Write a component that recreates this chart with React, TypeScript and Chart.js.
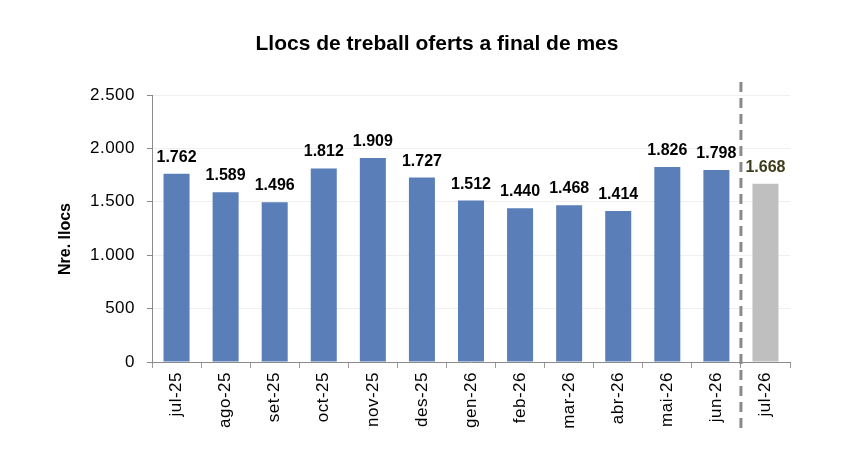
import React, { useEffect, useRef } from "react";
import { Chart, registerables } from "chart.js";

Chart.register(...registerables);

const categories = [
  "jul-25", "ago-25", "set-25", "oct-25", "nov-25", "des-25",
  "gen-26", "feb-26", "mar-26", "abr-26", "mai-26", "jun-26", "jul-26",
];
const values = [1762, 1589, 1496, 1812, 1909, 1727, 1512, 1440, 1468, 1414, 1826, 1798, 1668];
const forecastFrom = 12; // index of first highlighted (grey) bar
const yTicks = [0, 500, 1000, 1500, 2000, 2500];
const chartTitle = "Llocs de treball oferts a final de mes";
const yTitle = "Nre. llocs";

const BLUE = "#5a7eb7";
const GREY = "#bfbfbf";
const FONT = "'Liberation Sans', Arial, sans-serif";

const fmt = (v: number) => String(Math.round(v)).replace(/\B(?=(\d{3})+(?!\d))/g, ".");

const drawPlugin = {
  id: "customDraw",
  beforeDraw(chart: any) {
    (chart.ctx as any).letterSpacing = "0.5px";
  },
  beforeDatasetsDraw(chart: any) {
    (chart.ctx as any).letterSpacing = "0px";
  },
  afterDraw(chart: any) {
    const ctx = chart.ctx as CanvasRenderingContext2D;
    const x = chart.scales.x;
    ctx.save();
    (ctx as any).letterSpacing = "0px";

    // value labels
    const meta = chart.getDatasetMeta(0);
    meta.data.forEach((bar: any, i: number) => {
      ctx.font = `bold 16px ${FONT}`;
      ctx.fillStyle = i >= forecastFrom ? "#3d3d1c" : "#000000";
      ctx.textAlign = "center";
      ctx.textBaseline = "alphabetic";
      ctx.fillText(fmt(values[i]), bar.x, bar.y - 12);
    });

    // dashed separator
    const sx = (x.getPixelForValue(forecastFrom - 1) + x.getPixelForValue(forecastFrom)) / 2;
    ctx.beginPath();
    ctx.setLineDash([10, 6]);
    ctx.lineWidth = 3;
    ctx.strokeStyle = "#8a8a8a";
    ctx.moveTo(sx, 82);
    ctx.lineTo(sx, 430);
    ctx.stroke();
    ctx.setLineDash([]);

    // title
    ctx.font = `bold 21px ${FONT}`;
    ctx.fillStyle = "#000";
    ctx.textAlign = "center";
    ctx.fillText(chartTitle, 437, 50);

    // y title
    ctx.translate(66, 239);
    ctx.rotate(-Math.PI / 2);
    ctx.font = `bold 16px ${FONT}`;
    ctx.textBaseline = "middle";
    ctx.fillText(yTitle, 0, 0);
    ctx.restore();
  },
};

export default function App() {
  const ref = useRef<HTMLCanvasElement | null>(null);
  useEffect(() => {
    if (!ref.current) return;
    const chart = new Chart(ref.current, {
      type: "bar",
      data: {
        labels: categories,
        datasets: [
          {
            data: values,
            backgroundColor: values.map((_, i) => (i >= forecastFrom ? GREY : BLUE)),
            barPercentage: 0.53,
            categoryPercentage: 1,
          },
        ],
      },
      options: {
        animation: false,
        responsive: false,
        devicePixelRatio: 1,
        layout: { padding: { left: 0, top: 95, right: 62, bottom: 0 } },
        plugins: { legend: { display: false }, tooltip: { enabled: false }, title: { display: false } },
        scales: {
          x: {
            offset: true,
            grid: {
              offset: true,
              drawOnChartArea: false,
              tickColor: "#9a9a9a",
              tickLength: 6,
            },
            border: { color: "#8a8a8a", width: 1 },
            ticks: {
              autoSkip: false,
              minRotation: 90,
              maxRotation: 90,
              padding: 4,
              color: "#000",
              font: { family: FONT, size: 17 },
            },
            afterFit: (s: any) => {
              s.height = 110;
            },
          },
          y: {
            min: 0,
            max: 2500,
            afterBuildTicks: (s: any) => {
              s.ticks = yTicks.map((v) => ({ value: v }));
            },
            grid: { color: "#efefef", tickColor: "#8a8a8a", tickLength: 5 },
            border: { color: "#8a8a8a", width: 1 },
            ticks: {
              padding: 12,
              color: "#000",
              font: { family: FONT, size: 17 },
              callback: (v: any) => fmt(Number(v)),
            },
            afterFit: (s: any) => {
              s.width = 152;
            },
          },
        },
      },
      plugins: [drawPlugin],
    });
    return () => chart.destroy();
  }, []);
  return (
    <div style={{ position: "absolute", left: 0, top: 0, width: 852, height: 472, background: "#fff" }}>
      <canvas ref={ref} width={852} height={472} />
    </div>
  );
}
